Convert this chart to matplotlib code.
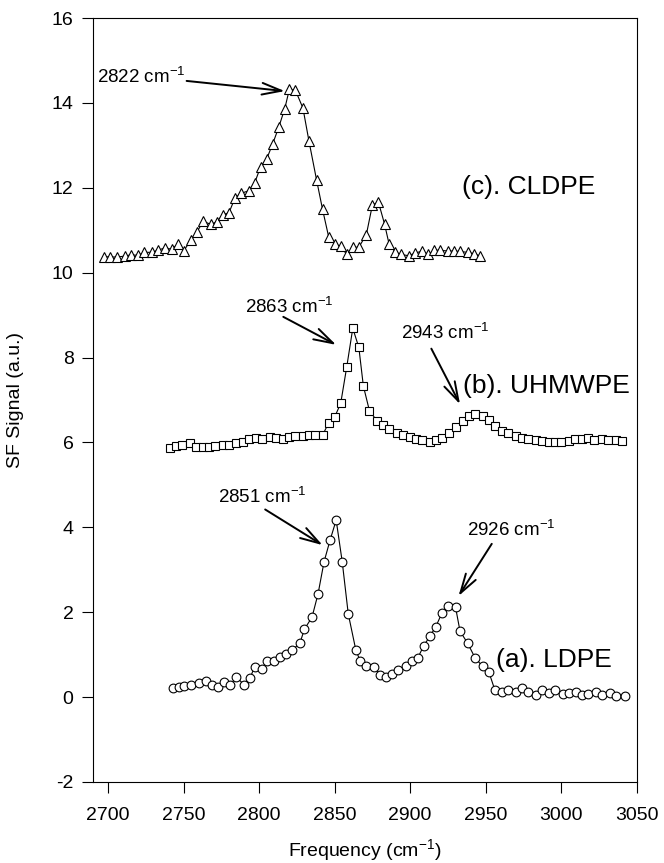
#!/usr/bin/env python3
"""
plot.py — SFG spectra of three polyethylene samples (stacked, offset).
"""

import matplotlib
matplotlib.use("Agg")
import matplotlib.pyplot as plt

# ─── Data ────────────────────────────────────────────────────────────────────

cldpe_x = [2697, 2701, 2706, 2711, 2715, 2720, 2724, 2729, 2733, 2738,
           2742, 2746, 2750, 2755, 2759, 2763, 2768, 2772, 2776, 2780,
           2784, 2788, 2793, 2797, 2801, 2805, 2809, 2813, 2817, 2820,
           2824, 2829, 2833, 2838, 2842, 2846, 2850, 2854, 2858, 2862,
           2866, 2871, 2875, 2879, 2883, 2886, 2890, 2894, 2899, 2903,
           2908, 2912, 2916, 2920, 2925, 2929, 2933, 2938, 2942, 2946]
cldpe_y = [10.38, 10.37, 10.37, 10.39, 10.42, 10.41, 10.48, 10.48, 10.53, 10.59,
           10.55, 10.67, 10.51, 10.78, 10.97, 11.21, 11.14, 11.20, 11.37, 11.41,
           11.76, 11.87, 11.93, 12.11, 12.50, 12.68, 13.04, 13.43, 13.87, 14.32,
           14.30, 13.88, 13.10, 12.19, 11.49, 10.85, 10.68, 10.62, 10.43, 10.60,
           10.60, 10.90, 11.60, 11.66, 11.15, 10.68, 10.49, 10.43, 10.40, 10.46,
           10.51, 10.43, 10.53, 10.53, 10.51, 10.51, 10.50, 10.48, 10.45, 10.40]

uhmwpe_x = [2741, 2745, 2749, 2754, 2758, 2763, 2767, 2771, 2776, 2780,
            2785, 2789, 2793, 2798, 2802, 2807, 2811, 2816, 2820, 2824,
            2829, 2833, 2837, 2842, 2846, 2850, 2854, 2858, 2862, 2866,
            2869, 2873, 2878, 2882, 2886, 2891, 2895, 2900, 2904, 2908,
            2913, 2917, 2921, 2926, 2930, 2935, 2939, 2943, 2948, 2952,
            2956, 2961, 2965, 2970, 2974, 2978, 2983, 2987, 2992, 2996,
            3000, 3005, 3009, 3014, 3018, 3022, 3027, 3031, 3036, 3040]
uhmwpe_y = [5.87, 5.91, 5.94, 5.98, 5.90, 5.90, 5.90, 5.91, 5.93, 5.95,
            5.98, 6.02, 6.07, 6.11, 6.09, 6.13, 6.11, 6.07, 6.12, 6.15,
            6.16, 6.17, 6.17, 6.17, 6.46, 6.60, 6.92, 7.78, 8.69, 8.24,
            7.33, 6.75, 6.51, 6.41, 6.31, 6.23, 6.17, 6.12, 6.09, 6.05,
            6.02, 6.05, 6.10, 6.22, 6.37, 6.51, 6.62, 6.66, 6.62, 6.52,
            6.38, 6.26, 6.22, 6.14, 6.10, 6.08, 6.05, 6.04, 6.00, 6.02,
            6.00, 6.04, 6.07, 6.08, 6.10, 6.06, 6.08, 6.05, 6.06, 6.03]

ldpe_x = [2743, 2747, 2750, 2755, 2760, 2765, 2769, 2773, 2777, 2781,
          2785, 2790, 2794, 2797, 2802, 2805, 2810, 2814, 2818, 2822,
          2827, 2830, 2835, 2839, 2843, 2847, 2851, 2855, 2859, 2864,
          2867, 2871, 2876, 2880, 2884, 2888, 2892, 2897, 2901, 2905,
          2909, 2913, 2917, 2921, 2925, 2930, 2933, 2938, 2943, 2948,
          2952, 2956, 2961, 2965, 2970, 2974, 2978, 2983, 2987, 2992,
          2996, 3001, 3005, 3010, 3014, 3018, 3023, 3027, 3032, 3036, 3042]
ldpe_y = [0.21, 0.24, 0.27, 0.29, 0.33, 0.37, 0.29, 0.24, 0.35, 0.29,
          0.47, 0.29, 0.45, 0.71, 0.66, 0.84, 0.84, 0.94, 1.02, 1.11,
          1.27, 1.60, 1.88, 2.43, 3.19, 3.70, 4.17, 3.19, 1.96, 1.11,
          0.84, 0.74, 0.71, 0.53, 0.47, 0.55, 0.64, 0.74, 0.86, 0.92,
          1.21, 1.43, 1.66, 1.98, 2.15, 2.12, 1.55, 1.27, 0.92, 0.72,
          0.60, 0.17, 0.13, 0.17, 0.13, 0.21, 0.13, 0.05, 0.17, 0.09,
          0.17, 0.07, 0.09, 0.13, 0.05, 0.07, 0.13, 0.05, 0.09, 0.03, 0.02]

x_ticks = [2700, 2750, 2800, 2850, 2900, 2950, 3000, 3050]
y_ticks = [-2, 0, 2, 4, 6, 8, 10, 12, 14, 16]

# peak annotations: label, text position, arrow tail, arrow tip
peaks = [
    ("2822", (2722, 14.62), (2752, 14.52), (2817, 14.28)),
    ("2863", (2820, 9.20), (2816, 8.96), (2851, 8.30)),
    ("2943", (2923, 8.59), (2914, 8.21), (2933, 6.90)),
    ("2851", (2802, 4.73), (2804, 4.42), (2842, 3.58)),
    ("2926", (2967, 3.95), (2954, 3.61), (2932, 2.38)),
]

# sample labels: text, left x, centre y
samples = [
    ("(c). CLDPE", 2934, 12.02),
    ("(b). UHMWPE", 2935, 7.32),
    ("(a). LDPE", 2957, 0.87),
]

# ─── Plot ────────────────────────────────────────────────────────────────────

plt.rcParams.update({
    "font.family": ["Liberation Sans", "DejaVu Sans"],
    "font.size": 14,
    "axes.unicode_minus": False,
    "mathtext.fontset": "custom",
    "mathtext.rm": "Liberation Sans",
})

fig = plt.figure(figsize=(6.64, 8.63), dpi=100)
ax = fig.add_axes([0.140, 0.094, 0.819, 0.885])

style = dict(color="black", linewidth=0.8, markerfacecolor="white",
             markeredgecolor="black", markeredgewidth=0.8)
ax.plot(cldpe_x, cldpe_y, marker="^", markersize=7, **style)
ax.plot(uhmwpe_x, uhmwpe_y, marker="s", markersize=5.8, **style)
ax.plot(ldpe_x, ldpe_y, marker="o", markersize=6.3, **style)

for label, txt, tail, tip in peaks:
    ax.text(txt[0], txt[1], label + r" cm$^{-1}$", ha="center", va="center",
            fontsize=13.5)
    ax.annotate("", xy=tip, xytext=tail,
                arrowprops=dict(arrowstyle="->,head_length=1.0,head_width=0.3",
                                color="black", lw=1.4, shrinkA=0, shrinkB=0))

for text, x0, y0 in samples:
    ax.text(x0, y0, text, ha="left", va="center", fontsize=19)

ax.set_xlim(2690, 3050)
ax.set_ylim(-2, 16)
ax.set_xticks(x_ticks)
ax.set_yticks(y_ticks)
ax.tick_params(direction="out", length=8, width=0.8, labelsize=14, pad=6)
ax.tick_params(axis="x", pad=10)
for s in ax.spines.values():
    s.set_linewidth(0.8)

ax.set_xlabel(r"Frequency (cm$^{-1}$)", fontsize=14, labelpad=10)
ax.set_ylabel("SF Signal (a.u.)", fontsize=14, labelpad=20)

fig.savefig("out.png", dpi=100)
